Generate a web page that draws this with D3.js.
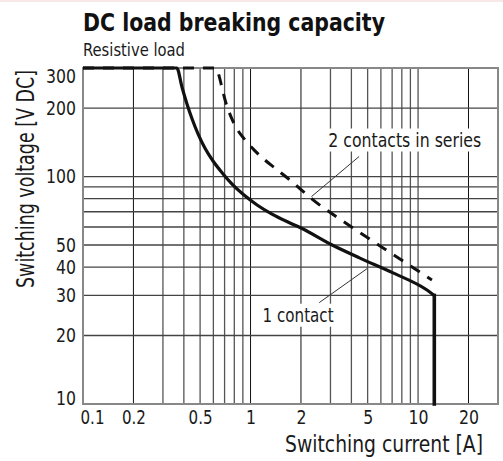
<!DOCTYPE html>
<html>
<head>
<meta charset="utf-8">
<script src="https://cdn.jsdelivr.net/npm/d3@7"></script>
<style>
  body { margin: 0; background: #fff; }
  svg { display: block; }
  text { font-family: "Liberation Sans Narrow", "DejaVu Sans Condensed", "Arial Narrow", sans-serif; fill: #1a1a1a; }
</style>
</head>
<body>
<div id="chart-container"></div>
<script>
// Tick values and labels
const xTicks = [0.1, 0.2, 0.5, 1, 2, 5, 10, 20];
const yTicks = [10, 20, 30, 40, 50, 100, 200, 300];
const xGrid = [0.2, 0.3, 0.4, 0.5, 0.6, 0.7, 0.8, 0.9, 1, 2, 3, 4, 5, 6, 7, 8, 9, 10, 20];
const yGrid = [20, 30, 40, 50, 60, 70, 80, 90, 100, 200];

// Curves, [current A, voltage V]
const oneContact = [
  [0.1, 300], [0.363, 300], [0.39, 247], [0.418, 208], [0.448, 179], [0.486, 154],
  [0.535, 133], [0.597, 117], [0.676, 104], [0.776, 92.6], [0.914, 82.9], [1.094, 75],
  [1.343, 68.4], [1.72, 62.5], [2.0, 59.4], [3.07, 50], [4.5, 43.8], [7.09, 37.7],
  [11.3, 31.7], [12.5, 30]
];
const oneContactCutoff = [[12.5, 30], [12.5, 10]];
const twoContacts = [
  [0.1, 300], [0.622, 300], [0.649, 277], [0.676, 245], [0.714, 210], [0.765, 183],
  [0.83, 162], [0.927, 145], [1.049, 131], [1.205, 119], [1.42, 108], [1.72, 96.5],
  [2.33, 79.6], [4.09, 59.4], [7.0, 45.7], [12.1, 35.1]
];

// Annotation anchors in data units: text position, leader start, leader end
const labels = [
  { text: "2 contacts in series", len: 153, at: [2.91, 135.5], from: [4.45, 122.5], to: [2.31, 81.6] },
  { text: "1 contact", len: 71, at: [1.18, 23.0], from: [2.57, 27.9], to: [4.97, 39.4] }
];

const width = 503, height = 461;
const margin = { top: 68, right: 5, bottom: 57, left: 83 };

const x = d3.scaleLog().domain([0.1, 30]).range([margin.left, width - margin.right]);
const y = d3.scaleLog().domain([10, 300]).range([height - margin.bottom, margin.top]);

// approximate width of a narrow numeric label
const numLen = s => s.replace(/[^0-9]/g, "").length * 10 + (s.includes(".") ? 4 : 0);

const svg = d3.select("#chart-container").append("svg")
    .attr("width", width)
    .attr("height", height);

// faint border at the top of the scan
svg.append("rect").attr("x", 0).attr("y", 0).attr("width", width).attr("height", 2).attr("fill", "#f8e8e8");

// Title
svg.append("text")
    .attr("x", margin.left).attr("y", 31)
    .attr("textLength", 302).attr("lengthAdjust", "spacingAndGlyphs")
    .style("font-size", "25px").style("font-weight", "bold").style("fill", "#111")
    .text("DC load breaking capacity");

svg.append("text")
    .attr("x", margin.left).attr("y", 56)
    .attr("textLength", 102).attr("lengthAdjust", "spacingAndGlyphs")
    .style("font-size", "18px")
    .text("Resistive load");

// Grid
const grid = svg.append("g");
grid.selectAll("line.v")
  .data(xGrid)
  .join("line")
    .attr("x1", d => x(d)).attr("x2", d => x(d))
    .attr("y1", y(300)).attr("y2", y(10))
    .attr("stroke", d => [0.2, 1, 2, 20].includes(d) ? "#111" : "#555")
    .attr("stroke-width", d => [0.2, 1, 2, 20].includes(d) ? 1 : 1.3);

grid.selectAll("line.h")
  .data(yGrid)
  .join("line")
    .attr("x1", x(0.1)).attr("x2", x(30))
    .attr("y1", d => y(d)).attr("y2", d => y(d))
    .attr("stroke", "#444")
    .attr("stroke-width", 1.3);

// Frame
svg.append("rect")
    .attr("x", x(0.1)).attr("y", y(300))
    .attr("width", x(30) - x(0.1)).attr("height", y(10) - y(300))
    .attr("fill", "none").attr("stroke", "#888").attr("stroke-width", 2);

// Annotation labels with white boxes hiding grid
labels.forEach(l => {
  const g = svg.append("g");
  const t = g.append("text")
      .attr("x", x(l.at[0])).attr("y", y(l.at[1]))
      .attr("textLength", l.len).attr("lengthAdjust", "spacingAndGlyphs")
      .style("font-size", "20px")
      .text(l.text);
  const b = t.node().getBBox();
  g.insert("rect", "text")
      .attr("x", b.x - 3).attr("y", b.y + 1)
      .attr("width", b.width + 6).attr("height", b.height - 1)
      .attr("fill", "#fff");
  svg.append("line")
      .attr("x1", x(l.from[0])).attr("y1", y(l.from[1]))
      .attr("x2", x(l.to[0])).attr("y2", y(l.to[1]))
      .attr("stroke", "#333").attr("stroke-width", 1);
});

// Curves
const line = d3.line().x(d => x(d[0])).y(d => y(d[1])).curve(d3.curveMonotoneX);
const straight = d3.line().x(d => x(d[0])).y(d => y(d[1]));

svg.append("path")
    .datum(twoContacts)
    .attr("d", line)
    .attr("fill", "none")
    .attr("stroke", "#111")
    .attr("stroke-width", 3)
    .attr("stroke-dasharray", "11,9");

svg.append("path")
    .datum(oneContact)
    .attr("d", line)
    .attr("fill", "none")
    .attr("stroke", "#111")
    .attr("stroke-width", 3.2);

svg.append("path")
    .datum(oneContactCutoff)
    .attr("d", straight)
    .attr("fill", "none")
    .attr("stroke", "#111")
    .attr("stroke-width", 3.6)
    .attr("stroke-linecap", "square");

// Axes
const xAxis = svg.append("g")
    .attr("transform", `translate(0,${y(10)})`)
    .call(d3.axisBottom(x).tickValues(xTicks).tickFormat(d3.format("")).tickSize(0).tickPadding(6));
xAxis.select(".domain").remove();
xAxis.selectAll("text")
    .style("font-size", "20px").style("font-family", null)
    .attr("textLength", d => numLen(String(d))).attr("lengthAdjust", "spacingAndGlyphs")
    .attr("dx", d => d === 0.1 ? 9 : 0);

const yAxis = svg.append("g")
    .attr("transform", `translate(${x(0.1)},0)`)
    .call(d3.axisLeft(y).tickValues(yTicks).tickFormat(d3.format("")).tickSize(0).tickPadding(7));
yAxis.select(".domain").remove();
yAxis.selectAll("text")
    .style("font-size", "20px").style("font-family", null)
    .attr("textLength", d => numLen(String(d))).attr("lengthAdjust", "spacingAndGlyphs")
    .attr("dy", d => d === 300 ? "0.7em" : d === 10 ? "0em" : "0.32em");

// Axis titles
svg.append("text")
    .attr("x", 285).attr("y", 452)
    .attr("textLength", 198).attr("lengthAdjust", "spacingAndGlyphs")
    .style("font-size", "23px")
    .text("Switching current [A]");

svg.append("text")
    .attr("transform", `translate(34,179) rotate(-90)`)
    .attr("text-anchor", "middle")
    .attr("textLength", 218).attr("lengthAdjust", "spacingAndGlyphs")
    .style("font-size", "24px")
    .text("Switching voltage [V DC]");
</script>
</body>
</html>
